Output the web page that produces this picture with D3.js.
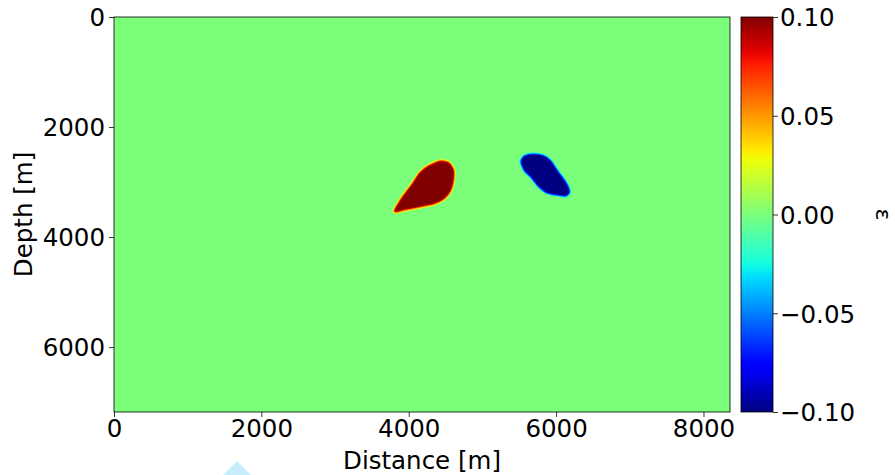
<!DOCTYPE html>
<html>
<head>
<meta charset="utf-8">
<script src="https://cdn.jsdelivr.net/npm/d3@7"></script>
<style>
  body { margin: 0; background: #fff; }
  text { font-family: "DejaVu Sans", sans-serif; fill: #000; }
</style>
</head>
<body>
<div id="chart"></div>
<script>
// model extent [m]
var xExtent = [0, 8360];
var zExtent = [0, 7180];
var xTicks = [0, 2000, 4000, 6000, 8000];
var zTicks = [0, 2000, 4000, 6000];
var cTicks = [0.10, 0.05, 0.00, -0.05, -0.10];
var background = 0.0;

// anomaly outlines [x, z] in metres, with their epsilon value
var redBlob = [[3815, 3522], [3928, 3267], [4064, 3024], [4155, 2842], [4268, 2722], [4426, 2631],
    [4539, 2660], [4599, 2782], [4599, 2963], [4562, 3145], [4471, 3296], [4336, 3387],
    [4110, 3449], [3928, 3496]];
var redValue = 0.1;
var blueBlob = [[5536, 2631], [5581, 2540], [5693, 2509], [5829, 2540], [5920, 2631], [6011, 2812],
    [6124, 3024], [6169, 3176], [6124, 3236], [6011, 3218], [5875, 3176], [5761, 3054],
    [5671, 2903], [5581, 2782]];
var blueValue = -0.1;
var source = [1670, 8070];

var width = 895, height = 475;
var margin = {top: 17, left: 114, right: 165, bottom: 63};
var plotW = 730 - margin.left, plotH = 412 - margin.top;
var fs = '24.5px';

// matplotlib jet
function jet(t) {
    function seg(pts) {
        for (var i = 1; i < pts.length; i++) {
            if (t <= pts[i][0]) {
                var a = pts[i - 1], b = pts[i];
                return a[1] + (b[1] - a[1]) * (t - a[0]) / (b[0] - a[0]);
            }
        }
        return pts[pts.length - 1][1];
    }
    t = Math.max(0, Math.min(1, t));
    var r = seg([[0, 0], [0.35, 0], [0.66, 1], [0.89, 1], [1, 0.5]]);
    var g = seg([[0, 0], [0.125, 0], [0.375, 1], [0.64, 1], [0.91, 0], [1, 0]]);
    var b = seg([[0, 0.5], [0.11, 1], [0.34, 1], [0.65, 0], [1, 0]]);
    return d3.rgb(r * 255, g * 255, b * 255).formatHex();
}

var svg = d3.select('#chart').append('svg')
    .attr('width', width).attr('height', height);

var x = d3.scaleLinear().domain(xExtent).range([margin.left, margin.left + plotW]);
var z = d3.scaleLinear().domain(zExtent).range([margin.top, margin.top + plotH]);
var c = d3.scaleSequential(jet).domain([-0.1, 0.1]);

// background field
svg.append('rect')
    .attr('x', x(xExtent[0])).attr('y', z(zExtent[0]))
    .attr('width', x(xExtent[1]) - x(xExtent[0]))
    .attr('height', z(zExtent[1]) - z(zExtent[0]))
    .attr('fill', c(background));

var line = d3.line()
    .x(function(d) { return x(d[0]); })
    .y(function(d) { return z(d[1]); })
    .curve(d3.curveCardinalClosed.tension(0.3));

// smeared edges: rings of intermediate values, then the core
function drawBlob(pts, val) {
    var g = svg.append('g');
    [[0.3, 5], [0.6, 3.2], [0.85, 1.6]].forEach(function(r) {
        g.append('path').attr('d', line(pts))
            .attr('fill', 'none')
            .attr('stroke', c(val * r[0]))
            .attr('stroke-width', r[1])
            .attr('stroke-linejoin', 'round');
    });
    g.append('path').attr('d', line(pts)).attr('fill', c(val));
}
drawBlob(redBlob, redValue);
drawBlob(blueBlob, blueValue);

// frame
svg.append('rect')
    .attr('x', margin.left).attr('y', margin.top)
    .attr('width', plotW).attr('height', plotH)
    .attr('fill', 'none').attr('stroke', '#000').attr('stroke-width', 0.8);

// axes
var xAxis = svg.append('g')
    .attr('transform', 'translate(0,' + (margin.top + plotH) + ')')
    .call(d3.axisBottom(x).tickValues(xTicks).tickSize(5).tickPadding(3).tickFormat(d3.format('d')));
var zAxis = svg.append('g')
    .attr('transform', 'translate(' + margin.left + ',0)')
    .call(d3.axisLeft(z).tickValues(zTicks).tickSize(5).tickPadding(4).tickFormat(d3.format('d')));
[xAxis, zAxis].forEach(function(a) {
    a.select('.domain').remove();
    a.selectAll('text').style('font-size', fs).attr('fill', '#000');
    a.selectAll('line').attr('stroke', '#000').attr('stroke-width', 0.8);
});
zAxis.selectAll('text').attr('dy', '0.36em');

svg.append('text')
    .attr('x', margin.left + plotW / 2).attr('y', 469)
    .attr('text-anchor', 'middle').style('font-size', fs)
    .text('Distance [m]');
svg.append('text')
    .attr('transform', 'translate(32,' + (margin.top + plotH / 2) + ') rotate(-90)')
    .attr('text-anchor', 'middle').style('font-size', fs)
    .text('Depth [m]');

// source marker (below the image, not clipped)
var tri = d3.line()([[x(source[0]), z(source[1])],
    [x(source[0]) - 30, z(source[1]) + 30],
    [x(source[0]) + 30, z(source[1]) + 30]]) + 'Z';
svg.append('path').attr('d', tri).attr('fill', '#c9eefb');

// colorbar
var cbX = 741, cbW = 32;
var cz = d3.scaleLinear().domain([0.1, -0.1]).range([margin.top, margin.top + plotH]);
var grad = svg.append('defs').append('linearGradient')
    .attr('id', 'jetgrad').attr('x1', 0).attr('y1', 1).attr('x2', 0).attr('y2', 0);
d3.range(0, 1.0001, 0.02).forEach(function(t) {
    grad.append('stop').attr('offset', t).attr('stop-color', jet(t));
});
svg.append('rect')
    .attr('x', cbX).attr('y', cz(0.1)).attr('width', cbW)
    .attr('height', cz(-0.1) - cz(0.1))
    .attr('fill', 'url(#jetgrad)')
    .attr('stroke', '#000').attr('stroke-width', 0.8);
var cAxis = svg.append('g')
    .attr('transform', 'translate(' + (cbX + cbW) + ',0)')
    .call(d3.axisRight(cz).tickValues(cTicks).tickSize(5).tickPadding(2)
        .tickFormat(function(d) { return d3.format('.2f')(d).replace('-', '\u2212'); }));
cAxis.select('.domain').remove();
cAxis.selectAll('text').style('font-size', fs).attr('fill', '#000').attr('dy', '0.36em');
cAxis.selectAll('line').attr('stroke', '#000').attr('stroke-width', 0.8);

svg.append('text')
    .attr('transform', 'translate(876,' + (margin.top + plotH / 2) + ') rotate(90)')
    .attr('text-anchor', 'middle').style('font-size', '22px')
    .text('\u03b5');
</script>
</body>
</html>
